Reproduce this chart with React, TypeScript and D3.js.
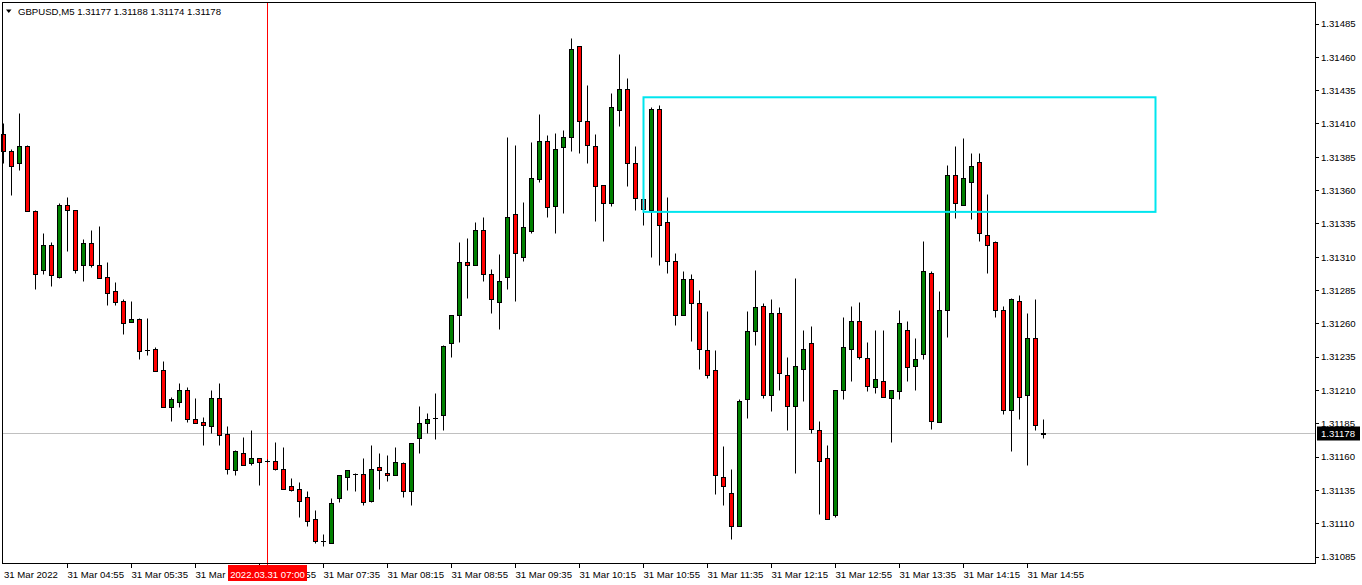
import React from "react";
import * as d3 from "d3";

const symbol = "GBPUSD,M5";
const quote = ["1.31177", "1.31188", "1.31174", "1.31178"];
const dateLabel = "31 Mar 2022";
const firstCandleTime = "04:15";

const open = [1.31402,1.31389,1.31380,1.31393,1.31344,1.31300,1.31319,1.31295,1.31349,1.31345,1.31304,1.31320,1.31304,1.31295,1.31284,1.31277,1.31261,1.31263,1.31240,1.31241,1.31225,1.31197,1.31201,1.31210,1.31188,1.31186,1.31183,1.31204,1.31177,1.31150,1.31163,1.31155,1.31159,1.31157,1.31157,1.31151,1.31138,1.31136,1.31130,1.31113,1.31097,1.31095,1.31129,1.31145,1.31147,1.31147,1.31127,1.31152,1.31148,1.31146,1.31155,1.31134,1.31174,1.31185,1.31189,1.31191,1.31245,1.31266,1.31306,1.31304,1.31330,1.31297,1.31276,1.31295,1.31342,1.31310,1.31329,1.31368,1.31397,1.31348,1.31392,1.31400,1.31468,1.31412,1.31393,1.31364,1.31350,1.31420,1.31436,1.31380,1.31353,1.31345,1.31421,1.31336,1.31307,1.31266,1.31293,1.31275,1.31240,1.31225,1.31145,1.31133,1.31108,1.31203,1.31254,1.31273,1.31206,1.31268,1.31221,1.31198,1.31226,1.31245,1.31180,1.31159,1.31116,1.31210,1.31241,1.31262,1.31234,1.31212,1.31217,1.31204,1.31209,1.31255,1.31228,1.31237,1.31298,1.31186,1.31270,1.31371,1.31349,1.31366,1.31381,1.31326,1.31321,1.31270,1.31195,1.31277,1.31206,1.31249,1.31177];
const high = [1.31410,1.31391,1.31418,1.31394,1.31345,1.31328,1.31321,1.31350,1.31355,1.31345,1.31323,1.31330,1.31333,1.31306,1.31291,1.31278,1.31277,1.31264,1.31264,1.31242,1.31232,1.31205,1.31215,1.31212,1.31204,1.31190,1.31210,1.31215,1.31183,1.31165,1.31175,1.31180,1.31159,1.31158,1.31171,1.31167,1.31144,1.31141,1.31134,1.31120,1.31102,1.31129,1.31146,1.31150,1.31148,1.31159,1.31169,1.31163,1.31161,1.31167,1.31156,1.31170,1.31198,1.31193,1.31208,1.31244,1.31266,1.31321,1.31324,1.31336,1.31340,1.31301,1.31312,1.31400,1.31394,1.31351,1.31396,1.31417,1.31401,1.31403,1.31405,1.31474,1.31468,1.31439,1.31402,1.31364,1.31433,1.31462,1.31444,1.31393,1.31353,1.31422,1.31424,1.31355,1.31313,1.31299,1.31297,1.31285,1.31269,1.31240,1.31168,1.31151,1.31203,1.31269,1.31300,1.31275,1.31278,1.31272,1.31235,1.31294,1.31255,1.31258,1.31187,1.31169,1.31210,1.31265,1.31273,1.31276,1.31246,1.31255,1.31255,1.31210,1.31270,1.31262,1.31249,1.31322,1.31299,1.31284,1.31379,1.31393,1.31399,1.31388,1.31388,1.31357,1.31322,1.31273,1.31279,1.31281,1.31268,1.31278,1.31188];
const low = [1.31380,1.31356,1.31375,1.31344,1.31286,1.31297,1.31288,1.31294,1.31314,1.31298,1.31292,1.31302,1.31294,1.31274,1.31274,1.31252,1.31261,1.31233,1.31236,1.31224,1.31197,1.31187,1.31197,1.31186,1.31185,1.31169,1.31178,1.31169,1.31147,1.31146,1.31154,1.31154,1.31139,1.31156,1.31150,1.31136,1.31134,1.31115,1.31108,1.31095,1.31093,1.31095,1.31126,1.31135,1.31134,1.31124,1.31126,1.31136,1.31142,1.31146,1.31130,1.31124,1.31163,1.31178,1.31173,1.31180,1.31235,1.31246,1.31279,1.31304,1.31292,1.31268,1.31256,1.31286,1.31277,1.31307,1.31328,1.31366,1.31340,1.31328,1.31343,1.31389,1.31388,1.31380,1.31337,1.31322,1.31348,1.31408,1.31363,1.31345,1.31334,1.31310,1.31304,1.31298,1.31259,1.31266,1.31247,1.31226,1.31219,1.31132,1.31124,1.31098,1.31108,1.31189,1.31244,1.31204,1.31194,1.31210,1.31180,1.31148,1.31202,1.31178,1.31117,1.31113,1.31115,1.31203,1.31217,1.31233,1.31209,1.31208,1.31205,1.31171,1.31203,1.31217,1.31210,1.31233,1.31181,1.31186,1.31250,1.31339,1.31349,1.31338,1.31322,1.31298,1.31265,1.31192,1.31164,1.31188,1.31154,1.31180,1.31174];
const close = [1.31389,1.31378,1.31393,1.31344,1.31297,1.31319,1.31296,1.31349,1.31345,1.31300,1.31320,1.31304,1.31294,1.31283,1.31276,1.31260,1.31263,1.31239,1.31240,1.31224,1.31197,1.31203,1.31210,1.31188,1.31185,1.31184,1.31204,1.31176,1.31151,1.31164,1.31154,1.31159,1.31156,1.31157,1.31151,1.31136,1.31135,1.31127,1.31112,1.31097,1.31097,1.31125,1.31146,1.31150,1.31147,1.31126,1.31151,1.31150,1.31146,1.31156,1.31134,1.31170,1.31185,1.31188,1.31189,1.31243,1.31266,1.31306,1.31304,1.31330,1.31297,1.31278,1.31292,1.31340,1.31313,1.31332,1.31369,1.31397,1.31347,1.31391,1.31400,1.31466,1.31412,1.31394,1.31363,1.31350,1.31422,1.31436,1.31380,1.31354,1.31346,1.31421,1.31334,1.31307,1.31266,1.31293,1.31275,1.31241,1.31221,1.31146,1.31138,1.31108,1.31202,1.31254,1.31272,1.31206,1.31268,1.31223,1.31198,1.31228,1.31241,1.31181,1.31157,1.31113,1.31210,1.31242,1.31262,1.31235,1.31213,1.31218,1.31205,1.31210,1.31260,1.31227,1.31233,1.31299,1.31187,1.31270,1.31371,1.31350,1.31369,1.31378,1.31328,1.31319,1.31270,1.31195,1.31278,1.31205,1.31249,1.31184,1.31178];

const priceTicks = [1.31085,1.31110,1.31135,1.31160,1.31185,1.31210,1.31235,1.31260,1.31285,1.31310,1.31335,1.31360,1.31385,1.31410,1.31435,1.31460,1.31485];
const timeTicks = ["04:55","05:35","06:15","06:55","07:35","08:15","08:55","09:35","10:15","10:55","11:35","12:15","12:55","13:35","14:15","14:55"];
const cursorTime = "07:00";
const cursorLabel = "2022.03.31 07:00";
const currentPrice = 1.31178;
const zoneStart = "10:55";
const zoneEnd = "16:15";
const zoneTop = 1.3143;
const zoneBottom = 1.31344;

const W = 1362;
const H = 585;
const left = 2;
const right = 1315;
const top = 2;
const bottom = 563;
const font = "'Liberation Sans', Arial, sans-serif";

const toMin = (t: string) => {
  const [h, m] = t.split(":").map(Number);
  return h * 60 + m;
};
const barIndex = (t: string) => (toMin(t) - toMin(firstCandleTime)) / 5;

export default function App() {
  const x = d3.scaleLinear().domain([0, 164]).range([3.5, 3.5 + 8 * 164]);
  const y = d3.scaleLinear().domain([1.31085, 1.31485]).range([557, 24]);
  const px = (v: number) => Math.round(v - 0.5) + 0.5;

  const candles = open.map((o, i) => {
    const c = close[i];
    const cx = px(x(i));
    const yH = px(y(high[i]));
    const yL = px(y(low[i]));
    const yT = px(y(Math.max(o, c)));
    const yB = px(y(Math.min(o, c)));
    const up = c > o;
    return (
      <g key={i}>
        <line x1={cx} x2={cx} y1={yH} y2={yL} stroke="#000" strokeWidth={1} />
        {yB - yT < 1 ? (
          <line x1={cx - 2.5} x2={cx + 2.5} y1={yT} y2={yT} stroke="#000" strokeWidth={1} />
        ) : (
          <rect x={cx - 2} y={yT} width={4} height={yB - yT} fill={up ? "#008000" : "#ff0000"} stroke="#000" strokeWidth={1} />
        )}
      </g>
    );
  });

  const cursorX = px(x(barIndex(cursorTime)));
  const curY = px(y(currentPrice));
  const zx1 = px(x(barIndex(zoneStart)));
  const zx2 = px(x(barIndex(zoneEnd)));

  return (
    <svg width={W} height={H} style={{ position: "absolute", left: 0, top: 0, background: "#fff" }} fontFamily={font}>
      <rect x={0} y={0} width={W} height={H} fill="#fff" />
      <line x1={left} x2={right} y1={curY} y2={curY} stroke="#c0c0c0" strokeWidth={1} />
      <line x1={cursorX} x2={cursorX} y1={top} y2={bottom + 3} stroke="#ff0000" strokeWidth={1} />
      {candles}
      <rect x={zx1} y={y(zoneTop)} width={zx2 - zx1} height={y(zoneBottom) - y(zoneTop)} fill="none" stroke="#00e5ee" strokeWidth={2} />
      <rect x={left + 0.5} y={top + 0.5} width={right - left} height={bottom - top} fill="none" stroke="#000" strokeWidth={1} />
      <path d="M6,9.5 L11.5,9.5 L8.75,13 Z" fill="#000" />
      <text x={18} y={14.5} fontSize={9.6} fill="#000">
        {symbol + "  " + quote.join(" ")}
      </text>
      {priceTicks.map((p) => (
        <g key={p}>
          <line x1={right + 1} x2={right + 4} y1={px(y(p))} y2={px(y(p))} stroke="#000" />
          <text x={1321} y={y(p)} dy="0.35em" fontSize={9.6} fill="#000">
            {p.toFixed(5)}
          </text>
        </g>
      ))}
      <rect x={1317} y={curY - 7} width={43} height={14} fill="#000" />
      <text x={1321} y={curY} dy="0.35em" fontSize={9.6} fill="#fff">
        {currentPrice.toFixed(5)}
      </text>
      <text x={4} y={578} fontSize={9.6} fill="#000">{dateLabel}</text>
      {timeTicks.map((t) => {
        const tx = px(x(barIndex(t)));
        return (
          <g key={t}>
            <line x1={tx} x2={tx} y1={bottom + 1} y2={bottom + 5} stroke="#000" />
            <text x={tx} y={578} fontSize={9.6} fill="#000">{"31 Mar " + t}</text>
          </g>
        );
      })}
      <rect x={cursorX - 39.5} y={565} width={79} height={16} fill="#ff0000" />
      <text x={cursorX} y={577.5} fontSize={9.6} fill="#fff" textAnchor="middle">{cursorLabel}</text>
    </svg>
  );
}
